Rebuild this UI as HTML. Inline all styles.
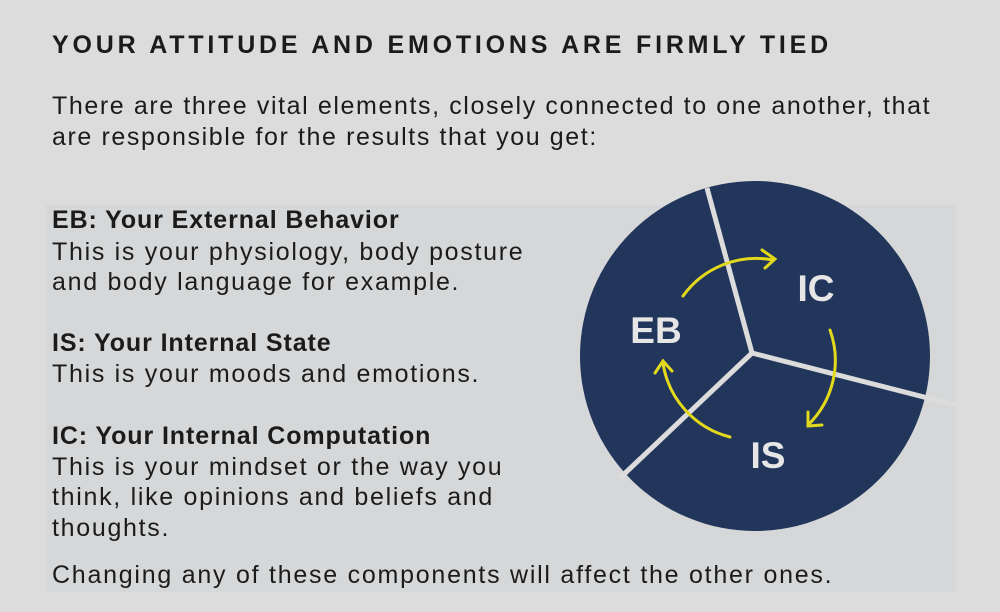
<!DOCTYPE html>
<html><head><style>
body{margin:0;width:1000px;height:612px;background:#dcdcdc;overflow:hidden;position:relative;font-family:"Liberation Sans",sans-serif;color:#1b1b1b}
.panel{position:absolute;left:46px;top:205px;width:910px;height:387px;background:#d5d7d8}
.t{position:absolute;left:52px;white-space:nowrap;font-size:25px;letter-spacing:1.7px}
.b{font-weight:bold;letter-spacing:0.9px}
</style></head><body>
<div class="panel"></div>
<div class="t b" style="top:31px;font-size:25px;letter-spacing:3.8px">YOUR ATTITUDE AND EMOTIONS ARE FIRMLY TIED</div>
<div class="t" style="top:92px;letter-spacing:1.6px">There are three vital elements, closely connected to one another, that</div>
<div class="t" style="top:123px;letter-spacing:1.6px">are responsible for the results that you get:</div>
<div class="t b" style="top:206px">EB: Your External Behavior</div>
<div class="t" style="top:238px">This is your physiology, body posture</div>
<div class="t" style="top:268px">and body language for example.</div>
<div class="t b" style="top:329px">IS: Your Internal State</div>
<div class="t" style="top:360px">This is your moods and emotions.</div>
<div class="t b" style="top:422px">IC: Your Internal Computation</div>
<div class="t" style="top:453px">This is your mindset or the way you</div>
<div class="t" style="top:483px">think, like opinions and beliefs and</div>
<div class="t" style="top:514px">thoughts.</div>
<div class="t" style="top:561px;letter-spacing:1.75px">Changing any of these components will affect the other ones.</div>
<svg width="1000" height="612" style="position:absolute;left:0;top:0">
<circle cx="755" cy="356" r="175" fill="#22365b"/>
<g stroke="#dcdcdc" stroke-width="5" fill="none">
<line x1="752" y1="353" x2="707" y2="188"/>
<line x1="752" y1="353" x2="955" y2="405"/>
<line x1="752" y1="353" x2="620" y2="478"/>
</g>
<g fill="#e6e6e6" font-weight="bold" font-size="37" text-anchor="middle" font-family="Liberation Sans, sans-serif">
<text x="656" y="343">EB</text>
<text x="816" y="301">IC</text>
<text x="768" y="468">IS</text>
</g>
<g stroke="#e3d91c" stroke-width="3" fill="none" stroke-linecap="round">
<path d="M683 296 A90 90 0 0 1 773 260"/>
<path d="M762 250 L775 259 L765 268"/>
<path d="M830 330 A90 90 0 0 1 808 425"/>
<path d="M808 412 L808 426 L822 425"/>
<path d="M730 437 A90 90 0 0 1 663 363"/>
<path d="M655 373 L663 361 L672 371"/>
</g>
</svg>
</body></html>
